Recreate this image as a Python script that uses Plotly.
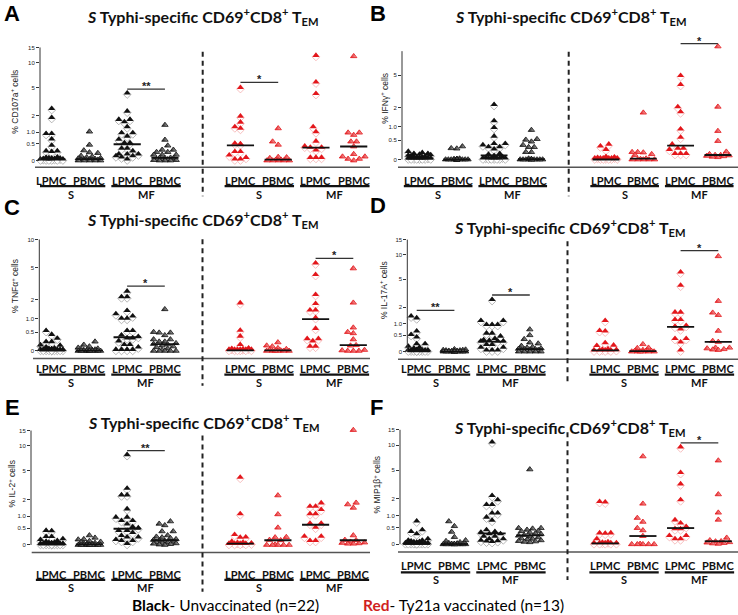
import numpy as np
import plotly.graph_objects as go

# ---------------- DATA (% of cells) ----------------
group_labels = ["LPMC", "PBMC", "LPMC", "PBMC", "LPMC", "PBMC", "LPMC", "PBMC"]
site_labels = ["S", "MF", "S", "MF"]
y_tick_values = [0, 0.5, 1, 2, 5, 10, 15]
y_tick_text = ["0", "0.5", "1.0", "2", "5", "10", "15"]
y_titles = ["% CD107a<sup>+</sup> cells", "% IFNγ<sup>+</sup> cells", "% TNFα<sup>+</sup> cells",
            "% IL-17A<sup>+</sup> cells", "% IL-2<sup>+</sup> cells", "% MIP1β<sup>+</sup> cells"]
panel_letters = ["A", "B", "C", "D", "E", "F"]

# Panel A - CD107a
A_unvac_S_LPMC = [2.45, 1.77, 0.87, 0.87, 0.63, 0.4, 0.22, 0.22, 0.2, 0.05, 0.04, 0.03, 0.02, 0.02, 0.01, 0.01, 0, 0, 0, 0, 0, 0]
A_unvac_S_PBMC = [1.03, 0.47, 0.28, 0.22, 0.2, 0.12, 0.1, 0.08, 0.06, 0.05, 0.04, 0.03, 0.03, 0.02, 0.02, 0.01, 0.01, 0, 0, 0, 0, 0]
A_unvac_MF_LPMC = [4.05, 2.23, 1.64, 1.64, 1.49, 1.2, 0.9, 0.9, 0.75, 0.62, 0.49, 0.49, 0.3, 0.3, 0.22, 0.13, 0.13, 0.13, 0.08, 0.08, 0.05, 0]
A_unvac_MF_PBMC = [1.39, 0.66, 0.44, 0.3, 0.3, 0.23, 0.23, 0.15, 0.15, 0.15, 0.07, 0.06, 0.06, 0.05, 0.04, 0.03, 0.02, 0.01, 0.01, 0, 0, 0]
A_vac_S_LPMC = [4.77, 1.86, 1.47, 1.2, 1.12, 0.47, 0.45, 0.2, 0.2, 0.1, 0.04, 0, 0]
A_vac_S_PBMC = [1.2, 0.59, 0.47, 0.09, 0.08, 0.06, 0.02, 0.01, 0, 0, 0, 0, 0]
A_vac_MF_LPMC = [11.7, 5.6, 3.98, 1.2, 0.95, 0.55, 0.37, 0.33, 0.33, 0.25, 0.04, 0.04, 0.04]
A_vac_MF_PBMC = [11.9, 0.98, 0.98, 0.87, 0.59, 0.59, 0.41, 0.17, 0.1, 0.1, 0.04, 0.04, 0]

# Panel B - IFNγ
B_unvac_S_LPMC = [0.15, 0.12, 0.1, 0.1, 0.08, 0.07, 0.06, 0.05, 0.04, 0.03, 0.02, 0.02, 0.01, 0.01, 0, 0, 0, 0, 0, 0, 0, 0]
B_unvac_S_PBMC = [0.32, 0.27, 0.26, 0.02, 0.01, 0.01, 0, 0, 0, 0, 0, 0, 0, 0, 0, 0, 0, 0, 0, 0, 0, 0]
B_unvac_MF_LPMC = [2.11, 1.2, 0.91, 0.59, 0.36, 0.36, 0.32, 0.27, 0.27, 0.21, 0.1, 0.08, 0.05, 0.02, 0.01, 0, 0, 0, 0, 0, 0, 0]
B_unvac_MF_PBMC = [0.87, 0.54, 0.52, 0.46, 0.36, 0.3, 0.3, 0.17, 0.17, 0.02, 0.01, 0, 0, 0, 0, 0, 0, 0, 0, 0, 0, 0]
B_vac_S_LPMC = [0.34, 0.29, 0.2, 0.03, 0.02, 0.01, 0, 0, 0, 0, 0, 0, 0]
B_vac_S_PBMC = [1.7, 0.17, 0.17, 0.16, 0.12, 0.1, 0.02, 0.01, 0, 0, 0, 0, 0]
B_vac_MF_LPMC = [4.74, 3.75, 1.96, 1.66, 0.85, 0.55, 0.34, 0.23, 0.23, 0.2, 0.1, 0.1, 0.1]
B_vac_MF_PBMC = [10.0, 2.06, 0.83, 0.48, 0.18, 0.12, 0.1, 0.1, 0.09, 0.08, 0.07, 0.06, 0.05]

# Panel C - TNFα
C_unvac_S_LPMC = [0.5, 0.38, 0.27, 0.18, 0.18, 0.1, 0.09, 0.05, 0.03, 0.02, 0.01, 0, 0, 0, 0, 0, 0, 0, 0, 0, 0, 0]
C_unvac_S_PBMC = [0.22, 0.14, 0.1, 0.07, 0.05, 0.04, 0.03, 0.02, 0.02, 0.01, 0.01, 0, 0, 0, 0, 0, 0, 0, 0, 0, 0, 0]
C_unvac_MF_LPMC = [2.5, 2.1, 2.1, 1.31, 1.15, 1.05, 0.95, 0.95, 0.5, 0.5, 0.36, 0.32, 0.28, 0.28, 0.2, 0.11, 0.11, 0.05, 0, 0, 0, 0]
C_unvac_MF_PBMC = [1.45, 0.5, 0.48, 0.48, 0.4, 0.28, 0.28, 0.22, 0.22, 0.18, 0.16, 0.15, 0.12, 0.1, 0.08, 0.05, 0.02, 0, 0, 0, 0, 0]
C_vac_S_LPMC = [1.72, 0.51, 0.33, 0.11, 0.03, 0.02, 0.01, 0, 0, 0, 0, 0, 0]
C_vac_S_PBMC = [0.2, 0.12, 0.1, 0.06, 0.04, 0.02, 0.01, 0, 0, 0, 0, 0, 0]
C_vac_MF_LPMC = [5.42, 4.0, 2.26, 1.68, 1.33, 1.33, 0.98, 0.57, 0.26, 0.26, 0.2, 0.07, 0.07]
C_vac_MF_PBMC = [4.9, 1.82, 0.65, 0.5, 0.46, 0.28, 0.13, 0.12, 0.02, 0.01, 0, 0, 0]

# Panel D - IL-17A
D_unvac_S_LPMC = [1.32, 1.22, 0.6, 0.47, 0.38, 0.17, 0.17, 0.1, 0.07, 0.05, 0.01, 0, 0, 0, 0, 0, 0, 0, 0, 0, 0, 0]
D_unvac_S_PBMC = [0.06, 0.05, 0.04, 0.04, 0.03, 0.03, 0.02, 0.02, 0.01, 0.01, 0, 0, 0, 0, 0, 0, 0, 0, 0, 0, 0, 0]
D_unvac_MF_LPMC = [2.5, 1.08, 1.08, 0.88, 0.88, 0.88, 0.52, 0.52, 0.41, 0.33, 0.29, 0.27, 0.25, 0.25, 0.25, 0.15, 0.15, 0.07, 0.07, 0, 0, 0]
D_unvac_MF_PBMC = [0.73, 0.5, 0.36, 0.25, 0.22, 0.15, 0.12, 0.1, 0.08, 0.07, 0.06, 0.06, 0.05, 0.04, 0.03, 0.02, 0.01, 0, 0, 0, 0, 0]
D_vac_S_LPMC = [1.08, 0.62, 0.6, 0.2, 0.13, 0.12, 0.03, 0.02, 0.01, 0, 0, 0, 0]
D_vac_S_PBMC = [0.2, 0.1, 0.09, 0.04, 0.02, 0.01, 0.01, 0, 0, 0, 0, 0, 0]
D_vac_MF_LPMC = [5.9, 3.98, 1.56, 1.56, 1.13, 1.13, 0.84, 0.8, 0.69, 0.33, 0.33, 0.22, 0]
D_vac_MF_PBMC = [9.6, 2.5, 1.62, 1.47, 0.67, 0.3, 0.27, 0.1, 0.1, 0.08, 0.06, 0.05, 0.04]

# Panel E - IL-2
E_unvac_S_LPMC = [0.37, 0.36, 0.18, 0.18, 0.12, 0.1, 0.07, 0.05, 0.03, 0.02, 0.01, 0, 0, 0, 0, 0, 0, 0, 0, 0, 0, 0]
E_unvac_S_PBMC = [0.26, 0.19, 0.15, 0.14, 0.1, 0.08, 0.07, 0.05, 0.04, 0.03, 0.02, 0.01, 0, 0, 0, 0, 0, 0, 0, 0, 0, 0]
E_unvac_MF_LPMC = [7.6, 2.8, 2.24, 2.24, 1.31, 0.89, 0.89, 0.74, 0.74, 0.6, 0.5, 0.46, 0.37, 0.37, 0.3, 0.21, 0.17, 0.17, 0.1, 0.075, 0.075, 0]
E_unvac_MF_PBMC = [0.77, 0.67, 0.61, 0.39, 0.39, 0.26, 0.22, 0.2, 0.18, 0.15, 0.13, 0.11, 0.1, 0.08, 0.07, 0.06, 0.05, 0.04, 0.03, 0.02, 0.01, 0]
E_vac_S_LPMC = [3.97, 1.05, 0.24, 0.17, 0.16, 0.05, 0.03, 0.02, 0.01, 0, 0, 0, 0]
E_vac_S_PBMC = [2.32, 1.1, 0.52, 0.21, 0.2, 0.13, 0.12, 0.01, 0, 0, 0, 0, 0]
E_vac_MF_LPMC = [1.67, 1.46, 1.46, 1.27, 1.05, 1.05, 0.63, 0.63, 0.48, 0.19, 0.19, 0.075, 0.075]
E_vac_MF_PBMC = [15.2, 1.78, 1.67, 1.46, 0.26, 0.13, 0.12, 0.08, 0.06, 0.05, 0.04, 0.03, 0.03]

# Panel F - MIP1β
F_unvac_S_LPMC = [0.69, 0.37, 0.31, 0.24, 0.1, 0.06, 0.06, 0.04, 0.03, 0.02, 0.01, 0, 0, 0, 0, 0, 0, 0, 0, 0, 0, 0]
F_unvac_S_PBMC = [0.74, 0.55, 0.35, 0.19, 0.1, 0.08, 0.05, 0.03, 0.02, 0.01, 0.01, 0, 0, 0, 0, 0, 0, 0, 0, 0, 0, 0]
F_unvac_MF_LPMC = [10.5, 2.14, 1.83, 1.52, 1.52, 1.05, 1.05, 0.86, 0.72, 0.37, 0.31, 0.29, 0.24, 0.24, 0.17, 0.17, 0.1, 0.1, 0.06, 0.05, 0.04, 0.03]
F_unvac_MF_PBMC = [5.13, 0.48, 0.48, 0.46, 0.42, 0.38, 0.37, 0.33, 0.3, 0.28, 0.25, 0.23, 0.2, 0.18, 0.15, 0.14, 0.12, 0.1, 0.08, 0.07, 0.06, 0.05]
F_vac_S_LPMC = [1.71, 1.68, 0.27, 0.27, 0.26, 0.1, 0.02, 0.01, 0, 0, 0, 0, 0]
F_vac_S_PBMC = [7.4, 1.67, 0.89, 0.72, 0.48, 0.4, 0.22, 0.01, 0, 0, 0, 0, 0]
F_vac_MF_LPMC = [9.2, 4.47, 3.16, 1.83, 0.74, 0.61, 0.48, 0.4, 0.4, 0.19, 0.19, 0.1, 0.1]
F_vac_MF_PBMC = [6.6, 2.35, 1.15, 0.81, 0.17, 0.1, 0.075, 0.07, 0.05, 0.04, 0.03, 0.02, 0.01]

# Significance brackets: (left group index, right group index, height value, label)
A_sig = [(2, 3, 4.77, "**"), (5, 6, 5.78, "*")]
B_sig = [(7, 8, 10.7, "*")]
C_sig = [(2, 3, 3.03, "*"), (7, 8, 6.31, "*")]
D_sig = [(0, 1, 1.78, "**"), (2, 3, 3.06, "*"), (7, 8, 11.2, "*")]
E_sig = [(2, 3, 8.85, "**")]
F_sig = [(7, 8, 10.67, "*")]

panel_data = [
    [A_unvac_S_LPMC, A_unvac_S_PBMC, A_unvac_MF_LPMC, A_unvac_MF_PBMC, A_vac_S_LPMC, A_vac_S_PBMC, A_vac_MF_LPMC, A_vac_MF_PBMC],
    [B_unvac_S_LPMC, B_unvac_S_PBMC, B_unvac_MF_LPMC, B_unvac_MF_PBMC, B_vac_S_LPMC, B_vac_S_PBMC, B_vac_MF_LPMC, B_vac_MF_PBMC],
    [C_unvac_S_LPMC, C_unvac_S_PBMC, C_unvac_MF_LPMC, C_unvac_MF_PBMC, C_vac_S_LPMC, C_vac_S_PBMC, C_vac_MF_LPMC, C_vac_MF_PBMC],
    [D_unvac_S_LPMC, D_unvac_S_PBMC, D_unvac_MF_LPMC, D_unvac_MF_PBMC, D_vac_S_LPMC, D_vac_S_PBMC, D_vac_MF_LPMC, D_vac_MF_PBMC],
    [E_unvac_S_LPMC, E_unvac_S_PBMC, E_unvac_MF_LPMC, E_unvac_MF_PBMC, E_vac_S_LPMC, E_vac_S_PBMC, E_vac_MF_LPMC, E_vac_MF_PBMC],
    [F_unvac_S_LPMC, F_unvac_S_PBMC, F_unvac_MF_LPMC, F_unvac_MF_PBMC, F_vac_S_LPMC, F_vac_S_PBMC, F_vac_MF_LPMC, F_vac_MF_PBMC],
]
panel_sig = [A_sig, B_sig, C_sig, D_sig, E_sig, F_sig]
group_pos = [0, 1, 2, 3, 5, 6, 7, 8]
site_pos = [0.5, 2.5, 5.5, 7.5]

# ---------------- LAYOUT GEOMETRY (pixels) ----------------
W, H = 738, 615
GEOM = [
    dict(ax=40, p0=51.7, ux=37.75, right=370, bl=35, y0=159, sy=40.9, top=15, base=165.7, lab=179, ul=184.8, grp=193.3,
         sep=(50, 195), title=(203, 15), letter=(12, 12), ytit=(15, 100), dtop=40, nt=7),
    dict(ax=402, p0=419.5, ux=37.3, right=738, bl=398, y0=158, sy=47.3, top=8.95, base=165.7, lab=179, ul=184.8, grp=193.3,
         sep=(50, 195), title=(570.8, 15), letter=(378, 12), ytit=(385, 97), dtop=40, nt=5),
    dict(ax=39.3, p0=51.7, ux=37.7, right=370, bl=33, y0=350, sy=46.6, top=10, base=357.7, lab=367.3, ul=373.8, grp=381.7,
         sep=(238, 385), title=(203, 218.3), letter=(12, 206), ytit=(15, 285), dtop=232, nt=6),
    dict(ax=407.3, p0=416.7, ux=37.7, right=738, bl=398, y0=350.7, sy=40.5, top=15, base=358.3, lab=367.3, ul=373.8, grp=381.7,
         sep=(240, 381.7), title=(569.7, 226.7), letter=(378, 204), ytit=(383, 289), dtop=235, nt=7),
    dict(ax=31, p0=51.7, ux=37.7, right=370, bl=31.7, y0=544.7, sy=41.4, top=15, base=552.3, lab=574, ul=579.8, grp=587.7,
         sep=(435, 591.7), title=(203.8, 421.7), letter=(12, 406.7), ytit=(12, 484), dtop=428, nt=7),
    dict(ax=400, p0=416.7, ux=37.7, right=738, bl=398, y0=544, sy=41.4, top=15, base=551.7, lab=565.7, ul=572.2, grp=579.3,
         sep=(431.7, 580), title=(569.7, 426.7), letter=(377, 406.7), ytit=(377, 484), dtop=428, nt=7),
]

BLACK = "#111111"
RED = "#e3161b"
DIAMOND_SIZE = 6.0          # half-diagonal = 0.65 * size (plotly diamond path)
CAP_SIZE = 6.1              # triangle covering the upper half of the diamond
CAP_SHIFT_PX = CAP_SIZE / 4  # plotly triangle base sits r/2 below its centre


def fx(x):
    return x / W


def fy(y):
    return 1 - y / H


def swarm(vals, ux, sy, dmin=5.6, gran=2.8, maxhalf=11.2):
    """Greedy beeswarm horizontal offsets (in axis units)."""
    t = np.log1p(np.asarray(vals, float))
    ypx = t * sy
    order = np.argsort(ypx, kind="stable")
    cands = [0.0]
    k = 1
    while k * gran <= maxhalf + 1e-9:
        cands += [-k * gran, k * gran]
        k += 1
    placed = []
    offs = np.zeros(len(t))
    for i in order:
        best, bestd = None, -1
        for c in cands:
            d = min([np.hypot(c - px_, ypx[i] - py_) for px_, py_ in placed] or [1e9])
            if d >= dmin:
                best = c
                break
            if d > bestd:
                bestd, best = d, c
        placed.append((best, ypx[i]))
        offs[i] = best / ux
    return t, offs


fig = go.Figure()
shapes, annotations = [], []
layout_axes = {}
LABFONT = dict(family="Lato", size=11, color="#111")

for p in range(6):
    g = GEOM[p]
    n = p + 1
    xa = "x" if n == 1 else f"x{n}"
    ya = "y" if n == 1 else f"y{n}"
    xr = [(g["ax"] - g["p0"]) / g["ux"], (g["right"] - g["p0"]) / g["ux"]]
    yr = [-(g["base"] - g["y0"]) / g["sy"], (g["y0"] - g["dtop"]) / g["sy"]]
    layout_axes["xaxis" if n == 1 else f"xaxis{n}"] = dict(
        domain=[fx(g["ax"]), fx(g["right"])], range=xr, visible=False, anchor=ya, fixedrange=True)
    tv = y_tick_values[:g["nt"]]
    layout_axes["yaxis" if n == 1 else f"yaxis{n}"] = dict(
        domain=[fy(g["base"]), fy(g["dtop"])], range=yr, anchor=xa,
        tickvals=list(np.log1p(tv)), ticktext=y_tick_text[:g["nt"]],
        ticks="outside", ticklen=3, tickwidth=1, tickcolor="#333",
        tickfont=dict(family="Liberation Sans", size=6, color="#222"),
        showgrid=False, zeroline=False, showline=False, fixedrange=True)

    # data points
    for gi, vals in enumerate(panel_data[p]):
        vac = gi >= 4
        col = RED if vac else BLACK
        is_lp = (gi % 2 == 0)
        t, offs = swarm(vals, g["ux"], g["sy"])
        xs = group_pos[gi] + offs
        if is_lp:
            # half-filled diamond: white diamond + coloured cap on the upper half
            fig.add_trace(go.Scatter(
                x=xs, y=t, mode="markers",
                marker=dict(symbol="diamond", size=DIAMOND_SIZE, color="#ffffff",
                            line=dict(color="#f3a5a5" if vac else "#9a9a9a", width=0.7)),
                xaxis=xa, yaxis=ya, cliponaxis=False, showlegend=False, hoverinfo="skip"))
            fig.add_trace(go.Scatter(
                x=xs, y=t + CAP_SHIFT_PX / g["sy"], mode="markers",
                marker=dict(symbol="triangle-up", size=CAP_SIZE, color=col, line=dict(width=0)),
                xaxis=xa, yaxis=ya, cliponaxis=False, showlegend=False, hoverinfo="skip"))
        else:
            fig.add_trace(go.Scatter(
                x=xs, y=t, mode="markers",
                marker=dict(symbol="triangle-up", size=5.6, color=col,
                            gradient=dict(type="horizontal", color="#f4b8b8" if vac else "#b5b5b5"),
                            line=dict(color=col, width=0.8)),
                xaxis=xa, yaxis=ya, cliponaxis=False, showlegend=False, hoverinfo="skip"))
        med = float(np.median(vals))
        shapes.append(dict(type="line", xref=xa, yref=ya, x0=group_pos[gi] - 0.36, x1=group_pos[gi] + 0.36,
                           y0=np.log1p(med), y1=np.log1p(med), line=dict(color=BLACK, width=1.8), layer="above"))

    # y axis line
    shapes.append(dict(type="line", xref="paper", yref=ya, x0=fx(g["ax"]), x1=fx(g["ax"]),
                       y0=0, y1=float(np.log1p(g["top"])), line=dict(color="#333", width=1)))
    # baseline
    shapes.append(dict(type="line", xref="paper", yref="paper", x0=fx(g["bl"]), x1=fx(g["right"]),
                       y0=fy(g["base"]), y1=fy(g["base"]), line=dict(color="#555", width=1.5)))
    # dashed separator
    sep_x = g["p0"] + 4 * g["ux"]
    shapes.append(dict(type="line", xref="paper", yref="paper", x0=fx(sep_x), x1=fx(sep_x),
                       y0=fy(g["sep"][0]), y1=fy(g["sep"][1]),
                       line=dict(color="#222", width=2, dash="5px,4px")))
    # group labels
    for gi, lab in enumerate(group_labels):
        annotations.append(dict(xref=xa, yref="paper", x=group_pos[gi], y=fy(g["lab"]), text=f"<b>{lab}</b>",
                                showarrow=False, font=LABFONT, xanchor="center", yanchor="middle"))
    for si, s in enumerate(site_labels):
        c = site_pos[si]
        shapes.append(dict(type="line", xref=xa, yref="paper", x0=c - 0.92, x1=c + 0.92,
                           y0=fy(g["ul"]), y1=fy(g["ul"]), line=dict(color="#111", width=2.2)))
        annotations.append(dict(xref=xa, yref="paper", x=c, y=fy(g["grp"]), text=f"<b>{s}</b>",
                                showarrow=False, font=LABFONT, xanchor="center", yanchor="middle"))
    # significance
    for (a, b, h, lab) in panel_sig[p]:
        shapes.append(dict(type="line", xref=xa, yref=ya, x0=a, x1=b,
                           y0=float(np.log1p(h)), y1=float(np.log1p(h)), line=dict(color="#333", width=1.3)))
        annotations.append(dict(xref=xa, yref=ya, x=(a + b) / 2, y=float(np.log1p(h)), text=f"<b>{lab}</b>",
                                showarrow=False, font=dict(family="Liberation Sans", size=11, color="#222"),
                                xanchor="center", yanchor="bottom", yshift=-5))
    # title, letter, y title
    annotations.append(dict(xref="paper", yref="paper", x=fx(g["title"][0]), y=fy(g["title"][1]),
                            text="<b><i>S</i> Typhi-specific CD69<sup>+</sup>CD8<sup>+</sup> T<sub>EM</sub></b>",
                            showarrow=False, font=dict(family="Lato", size=16, color="#111"),
                            xanchor="center", yanchor="middle"))
    annotations.append(dict(xref="paper", yref="paper", x=fx(g["letter"][0]), y=fy(g["letter"][1]),
                            text=f"<b>{panel_letters[p]}</b>", showarrow=False,
                            font=dict(family="Liberation Sans", size=22, color="#000"),
                            xanchor="center", yanchor="middle"))
    annotations.append(dict(xref="paper", yref="paper", x=fx(g["ytit"][0]), y=fy(g["ytit"][1]),
                            text=y_titles[p], textangle=-90, showarrow=False,
                            font=dict(family="Liberation Sans", size=8.5, color="#222"),
                            xanchor="center", yanchor="middle"))

# bottom legend text
annotations.append(dict(xref="paper", yref="paper", x=fx(225.5), y=fy(604.5), showarrow=False,
                        text="<b>Black</b>- Unvaccinated (n=22)",
                        font=dict(family="Lato", size=15.5, color="#000"), xanchor="center", yanchor="middle"))
annotations.append(dict(xref="paper", yref="paper", x=fx(463), y=fy(604.5), showarrow=False,
                        text="<b><span style='color:#d01f1f'>Red</span></b>- Ty21a vaccinated (n=13)",
                        font=dict(family="Lato", size=15.5, color="#000"), xanchor="center", yanchor="middle"))

fig.update_layout(
    width=W, height=H, autosize=False,
    margin=dict(l=0, r=0, t=0, b=0),
    paper_bgcolor="white", plot_bgcolor="white",
    showlegend=False, shapes=shapes, annotations=annotations,
    **layout_axes,
)
fig.write_html("out.html", config={"displayModeBar": False},
               post_script="document.body.style.margin='0';document.body.style.overflow='hidden';")
